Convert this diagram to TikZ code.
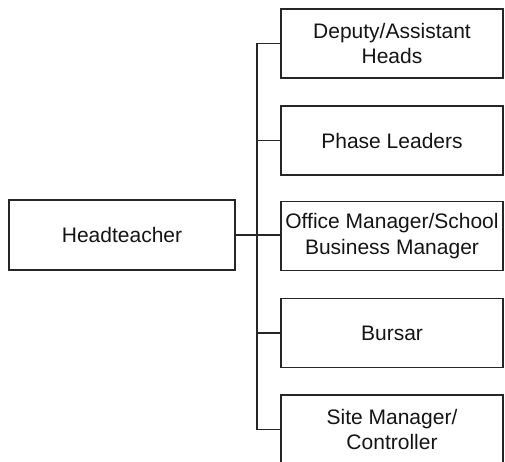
\documentclass[tikz,border=0pt]{standalone}
\usepackage{fontspec}
\setmainfont{Liberation Sans}
\begin{document}
\begin{tikzpicture}[x=1pt,y=1pt,
  box/.style={draw=black!85, line width=1.4pt, minimum width=222pt, minimum height=69pt,
    align=center, inner sep=0pt, font=\fontsize{21}{25.5}\selectfont, text=black!92},
  link/.style={draw=black!85, line width=1.4pt}]
\useasboundingbox (0,0) rectangle (505,461);
\node[box, minimum width=226pt, minimum height=70pt] (h) at (122,226) {Headteacher};
\node[box] (d1) at (392,417.5) {Deputy/Assistant\\Heads};
\node[box] (d2) at (392,320.5) {Phase Leaders};
\node[box] (d3) at (392,225) {Office Manager/School\\Business Manager};
\node[box] (d4) at (392,128) {Bursar};
\node[box] (d5) at (392,31.5) {Site Manager/\\Controller};
\coordinate (sp) at (257,0);
\draw[link] (d1.west) -- (d1.west -| sp) -- (d5.west -| sp) -- (d5.west);
\draw[link] (d2.west) -- (d2.west -| sp);
\draw[link] (h.east) -- (h.east -| d3.west);
\draw[link] (d4.west) -- (d4.west -| sp);
\end{tikzpicture}
\end{document}
